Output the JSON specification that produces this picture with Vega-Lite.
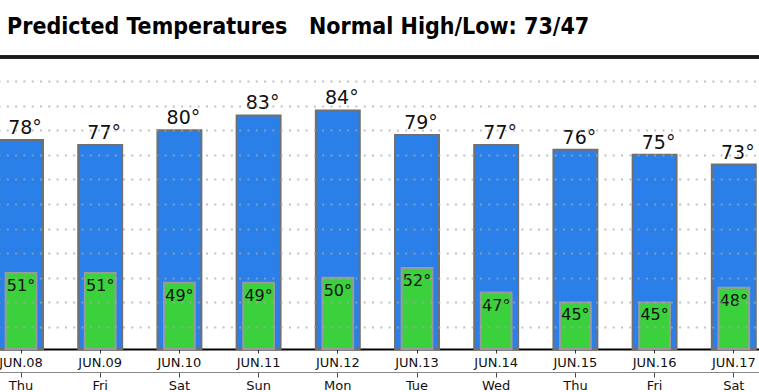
{
  "$schema": "https://vega.github.io/schema/vega-lite/v6.json",
  "width": 759,
  "height": 292,
  "autosize": {"type": "none"},
  "padding": {"top": 57, "left": 0, "right": 0, "bottom": 43},
  "background": "white",
  "title": {
    "text": "Predicted Temperatures\u00a0\u00a0\u00a0Normal High/Low: 73/47",
    "anchor": "start",
    "font": "DejaVu Sans Condensed, Liberation Sans",
    "fontWeight": "bold",
    "fontSize": 23,
    "color": "black",
    "baseline": "alphabetic",
    "offset": -1,
    "dx": 9
  },
  "data": {
    "values": [
      {"key": "JUN.08|Thu", "high": 78, "low": 51},
      {"key": "JUN.09|Fri", "high": 77, "low": 51},
      {"key": "JUN.10|Sat", "high": 80, "low": 49},
      {"key": "JUN.11|Sun", "high": 83, "low": 49},
      {"key": "JUN.12|Mon", "high": 84, "low": 50},
      {"key": "JUN.13|Tue", "high": 79, "low": 52},
      {"key": "JUN.14|Wed", "high": 77, "low": 47},
      {"key": "JUN.15|Thu", "high": 76, "low": 45},
      {"key": "JUN.16|Fri", "high": 75, "low": 45},
      {"key": "JUN.17|Sat", "high": 73, "low": 48}
    ]
  },
  "config": {
    "view": {"stroke": null},
    "axisX": {
      "labelFont": "DejaVu Sans",
      "labelFontSize": 13,
      "labelColor": "#111",
      "labelOverlap": false,
      "labelBound": false,
      "labelAngle": 0,
      "grid": false,
      "title": null
    }
  },
  "resolve": {"axis": {"x": "independent", "y": "independent"}},
  "layer": [
    {
      "mark": {"type": "bar", "fill": "#2a80e8", "stroke": "#707070", "strokeWidth": 2},
      "encoding": {
        "x": {
          "field": "key", "type": "nominal", "sort": null,
          "scale": {"range": [-18.6, 773.4], "paddingInner": 0.445, "paddingOuter": 0.2225},
          "axis": {
            "orient": "bottom",
            "labelExpr": "split(datum.label, '|')[0]",
            "domainColor": "#000",
            "domainWidth": 2,
            "tickColor": "#333",
            "tickSize": 4,
            "tickWidth": 1,
            "labelPadding": 3,
            "title": null
          }
        },
        "y": {"field": "high", "type": "quantitative", "title": null,
              "scale": {"domain": [35.53, 94.87], "zero": false, "nice": false},
              "axis": {
                "values": [40, 45, 50, 55, 60, 65, 70, 75, 80, 85, 90],
                "grid": true,
                "gridColor": "#a8a8a8",
                "gridDash": [2, 6.3],
                "gridWidth": 2,
                "gridOpacity": 0.7,
                "domain": false,
                "ticks": false,
                "labels": false,
                "title": null,
                "zindex": 1
              }},
        "y2": {"datum": 35.53}
      }
    },
    {
      "mark": {"type": "bar", "fill": "#3bd13d", "stroke": "#9a9a9a", "strokeWidth": 2, "width": {"band": 0.7}},
      "encoding": {
        "x": {
          "field": "key", "type": "nominal", "sort": null,
          "axis": {
            "orient": "bottom",
            "labelExpr": "split(datum.label, '|')[1]",
            "offset": 23,
            "domainColor": "#888",
            "domainWidth": 1,
            "tickColor": "#444",
            "tickSize": 5,
            "tickWidth": 1,
            "labelPadding": 2,
            "title": null
          }
        },
        "y": {"field": "low", "type": "quantitative", "title": null, "axis": null},
        "y2": {"datum": 35.53}
      }
    },
    {
      "transform": [{"calculate": "datum.low + '°'", "as": "lowLabel"}],
      "mark": {"type": "text", "font": "DejaVu Sans", "fontSize": 16, "baseline": "top", "dy": 5, "color": "#111"},
      "encoding": {
        "x": {"field": "key", "type": "nominal", "sort": null, "axis": null},
        "y": {"field": "low", "type": "quantitative", "title": null, "axis": null},
        "text": {"field": "lowLabel"}
      }
    },
    {
      "transform": [{"calculate": "datum.high + '°'", "as": "highLabel"}],
      "mark": {"type": "text", "font": "DejaVu Sans", "fontSize": 19, "baseline": "alphabetic", "dy": -6, "dx": 4, "color": "#111"},
      "encoding": {
        "x": {"field": "key", "type": "nominal", "sort": null, "axis": null},
        "y": {"field": "high", "type": "quantitative", "title": null, "axis": null},
        "text": {"field": "highLabel"}
      }
    },
    {
      "mark": {"type": "rule", "stroke": "#1a1a1a", "strokeWidth": 2.5},
      "encoding": {"y": {"datum": 94.87, "axis": null}}
    }
  ]
}
